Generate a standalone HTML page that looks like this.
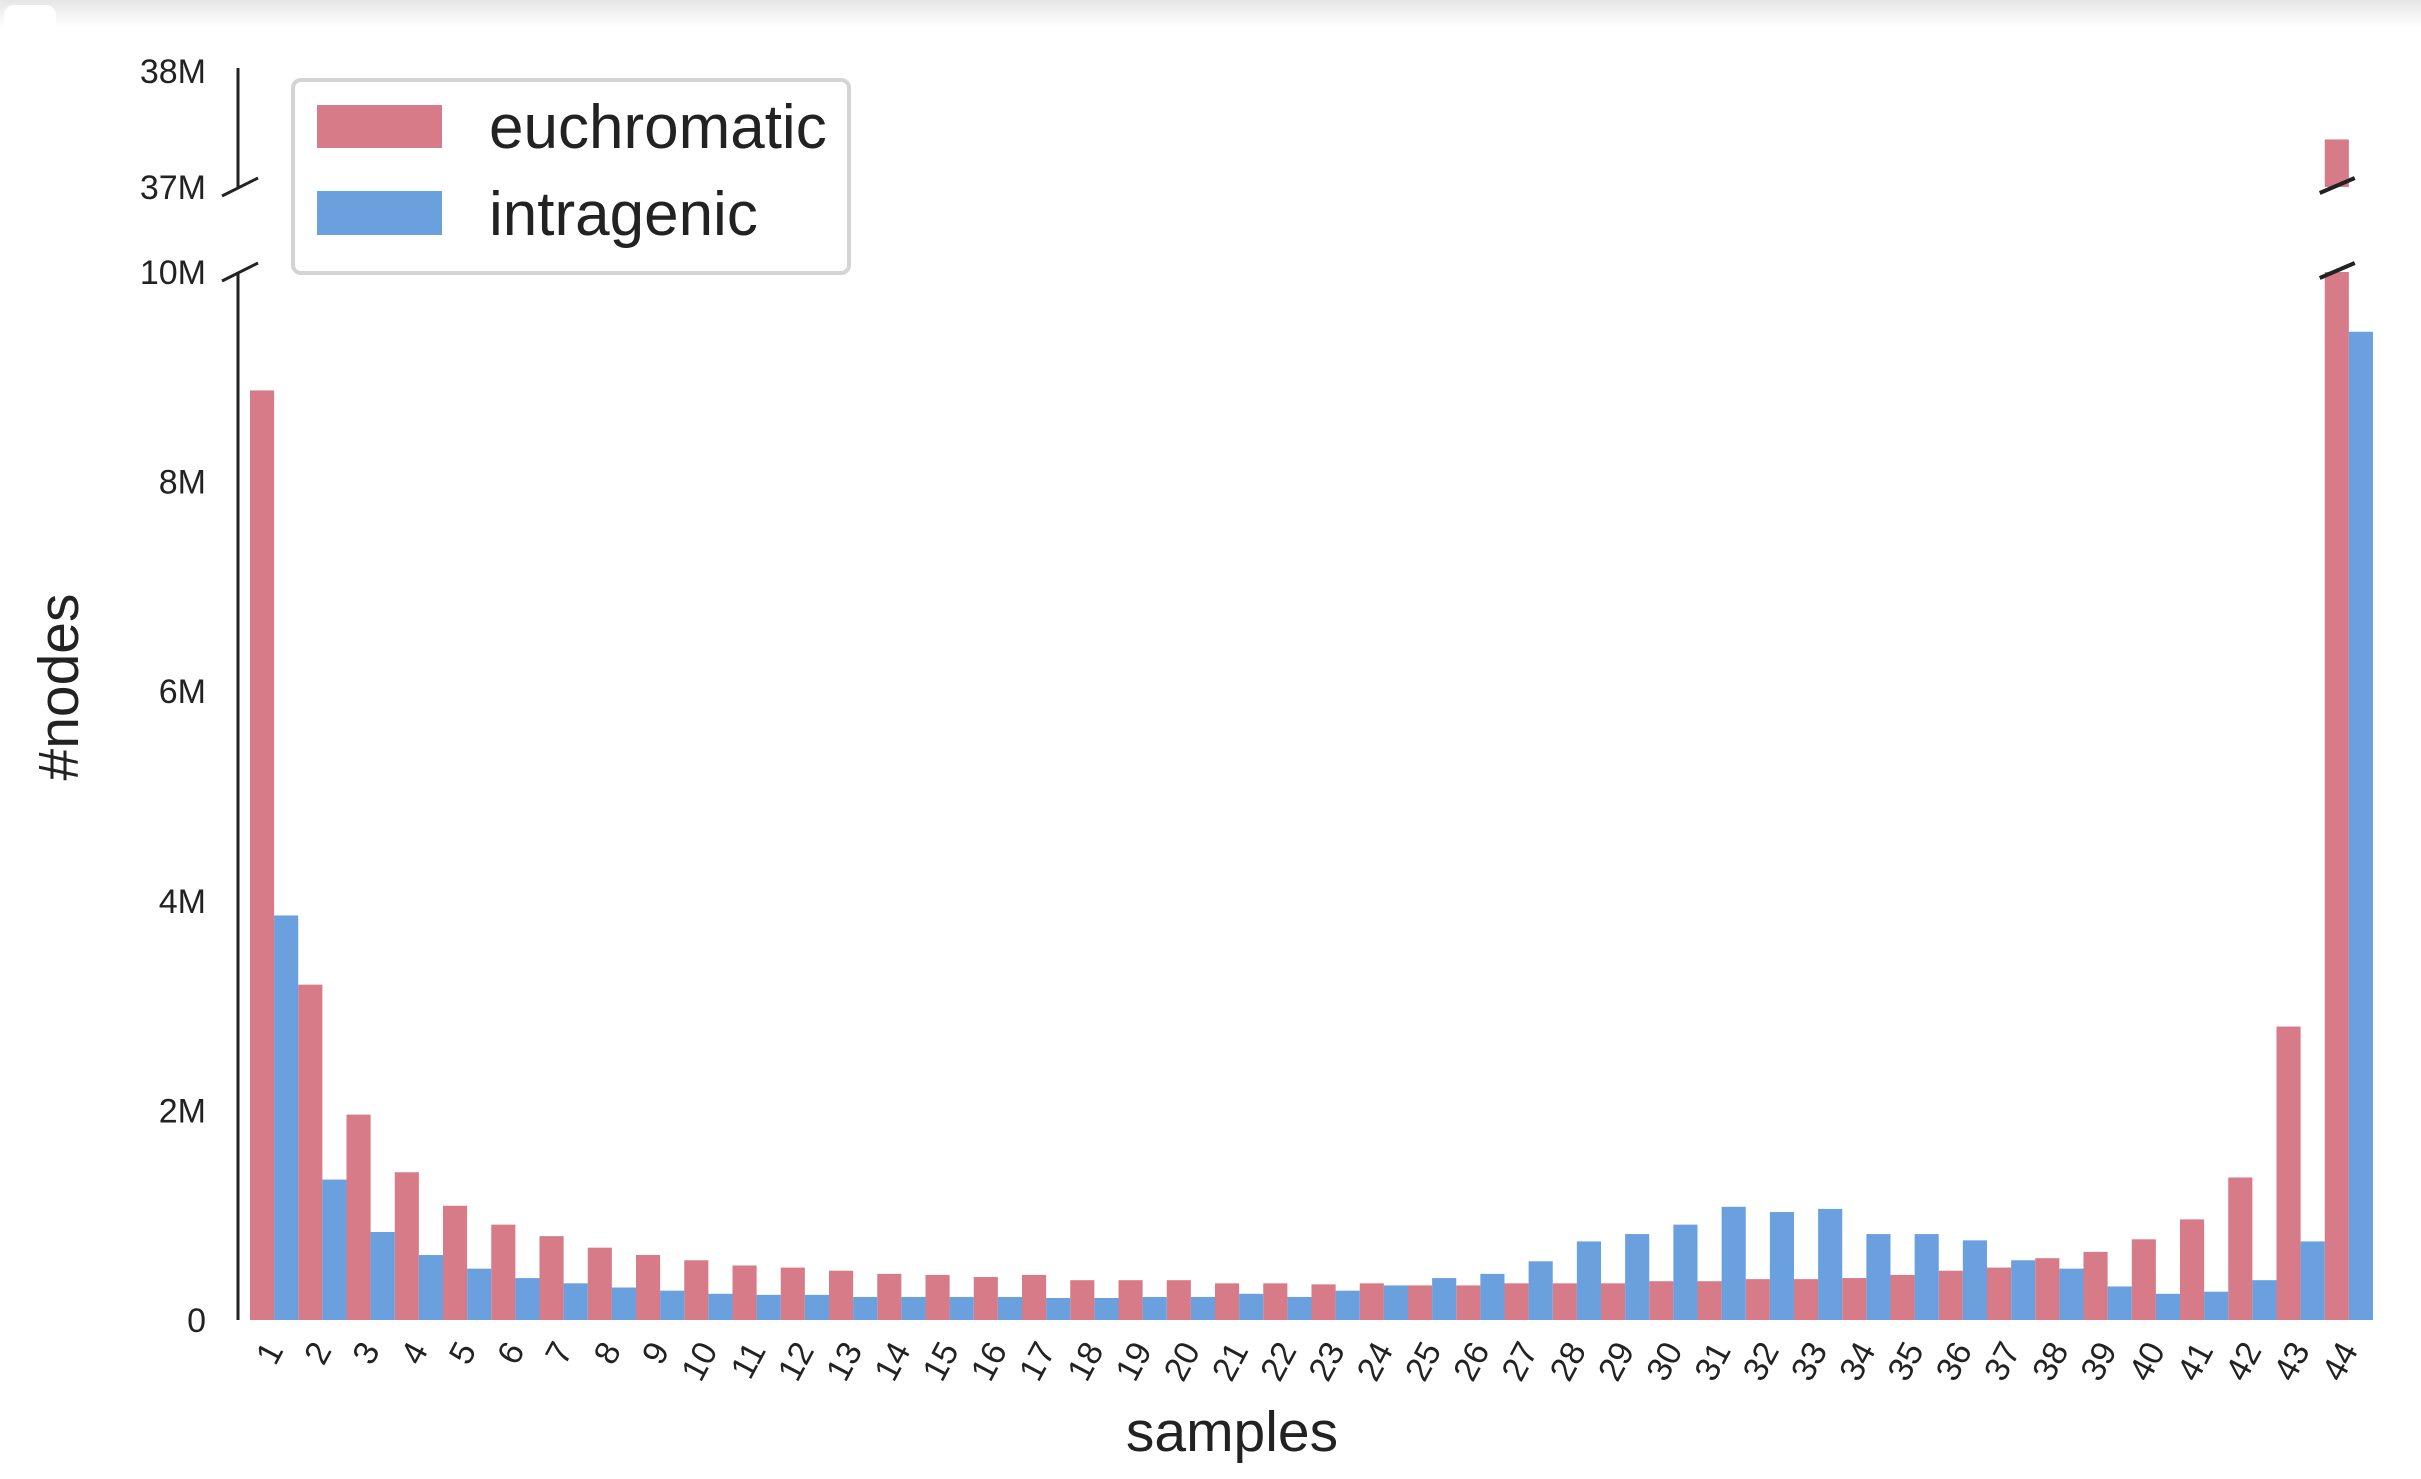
<!DOCTYPE html>
<html><head><meta charset="utf-8"><style>
html,body{margin:0;padding:0;background:#fff;}
body{width:2421px;height:1474px;overflow:hidden;font-family:"Liberation Sans",sans-serif;}
</style></head><body>
<svg id="chart" width="2421" height="1474" viewBox="0 0 2421 1474" xmlns="http://www.w3.org/2000/svg" style="font-family:'Liberation Sans',sans-serif">
<defs><linearGradient id="tg" x1="0" y1="0" x2="0" y2="1"><stop offset="0" stop-color="#e6e6e6"/><stop offset="1" stop-color="#ffffff"/></linearGradient></defs>
<rect x="0" y="0" width="2421" height="28" fill="url(#tg)"/>
<rect x="4" y="5" width="52" height="30" rx="10" fill="#fff"/>
<g id="bars"></g>
<g id="axes"></g>
<g id="legend">
<rect x="293" y="80" width="556" height="193" rx="8" fill="#fff" stroke="#d4d4d4" stroke-width="4"/>
<rect x="317" y="105" width="125" height="43" fill="#d67b87"/>
<text x="489" y="148" font-size="62" fill="#222">euchromatic</text>
<rect x="317" y="191" width="125" height="44" fill="#6aa0de"/>
<text x="489" y="235" font-size="62" fill="#222">intragenic</text>
</g>
<text x="1232" y="1451" font-size="57" fill="#222" text-anchor="middle">samples</text>
<text x="0" y="0" font-size="57" fill="#222" text-anchor="middle" transform="translate(78,687) rotate(-90)">#nodes</text>
</svg>
<script>
const categories = Array.from({length:44},(_,i)=>String(i+1));
const euchromatic = [8.87,3.2,1.96,1.41,1.09,0.91,0.80,0.69,0.62,0.57,0.52,0.50,0.47,0.44,0.43,0.41,0.43,0.38,0.38,0.38,0.35,0.35,0.34,0.35,0.33,0.33,0.35,0.35,0.35,0.37,0.37,0.39,0.39,0.40,0.43,0.47,0.50,0.59,0.65,0.77,0.96,1.36,2.8,37.41];
const intragenic = [3.86,1.34,0.84,0.62,0.49,0.40,0.35,0.31,0.28,0.25,0.24,0.24,0.22,0.22,0.22,0.22,0.21,0.21,0.22,0.22,0.25,0.22,0.28,0.33,0.40,0.44,0.56,0.75,0.82,0.91,1.08,1.03,1.06,0.82,0.82,0.76,0.57,0.49,0.32,0.25,0.27,0.38,0.75,9.43];
const lowerTicks = [0,2,4,6,8,10];
const lowerTickLabels = ["0","2M","4M","6M","8M","10M"];
const upperTicks = [37,38];
const upperTickLabels = ["37M","38M"];

const NS="http://www.w3.org/2000/svg";
const X0=250, GW=48.25, BW=24.12;
const LB=1320, LT=272, LMAX=10;
const UB=187, UT=71, UMIN=37, UMAX=38;
function yLow(v){return LB-(Math.min(v,LMAX)/LMAX)*(LB-LT);}
function yUp(v){return UB-((v-UMIN)/(UMAX-UMIN))*(UB-UT);}
function xBar(i,s){return X0+i*GW+s*BW;}
function mk(tag,attrs,parent){const e=document.createElementNS(NS,tag);for(const k in attrs)e.setAttribute(k,attrs[k]);parent.appendChild(e);return e;}
const bars=document.getElementById('bars'), axes=document.getElementById('axes');
const series=[[euchromatic,'#d67b87','euchromatic'],[intragenic,'#6aa0de','intragenic']];
series.forEach(([vals,col,name],s)=>{
  vals.forEach((v,i)=>{
    const x=xBar(i,s);
    const y=yLow(v);
    const r=mk('rect',{x:x,y:y,width:BW,height:LB-y,fill:col},bars);
    
    
    if(v>UMIN){
      const yu=yUp(v);
      const r2=mk('rect',{x:x,y:yu,width:BW,height:UB-yu,fill:col},bars);
      
      
      [UB,LT].forEach(yy=>{
        const bl=mk('line',{x1:x-5,y1:yy+6,x2:x+30,y2:yy-9,stroke:'#222','stroke-width':4},axes);
        
        
      });
    }
  });
});
const sp1=mk('line',{x1:238,y1:LT,x2:238,y2:LB,stroke:'#222','stroke-width':3},axes);


const sp2=mk('line',{x1:238,y1:UT-3,x2:238,y2:UB,stroke:'#222','stroke-width':3},axes);


[UB,LT].forEach(yy=>{
  const bl=mk('line',{x1:222,y1:yy+9,x2:258,y2:yy-9,stroke:'#222','stroke-width':3},axes);
  
  
});
lowerTicks.forEach((v,i)=>{
  const t=mk('text',{x:206,y:yLow(v)+12,'font-size':34,fill:'#222','text-anchor':'end'},axes);
  t.textContent=lowerTickLabels[i];
  
  
});
upperTicks.forEach((v,i)=>{
  const t=mk('text',{x:206,y:yUp(v)+12,'font-size':34,fill:'#222','text-anchor':'end'},axes);
  t.textContent=upperTickLabels[i];
  
  
});
categories.forEach((c,i)=>{
  const cx=X0+i*GW+BW;
  const t=mk('text',{x:0,y:0,'font-size':34,fill:'#222','text-anchor':'end',transform:'translate('+(cx+10)+',1350) rotate(-62)'},axes);
  t.textContent=c;
  
  
});
</script>
</body></html>
